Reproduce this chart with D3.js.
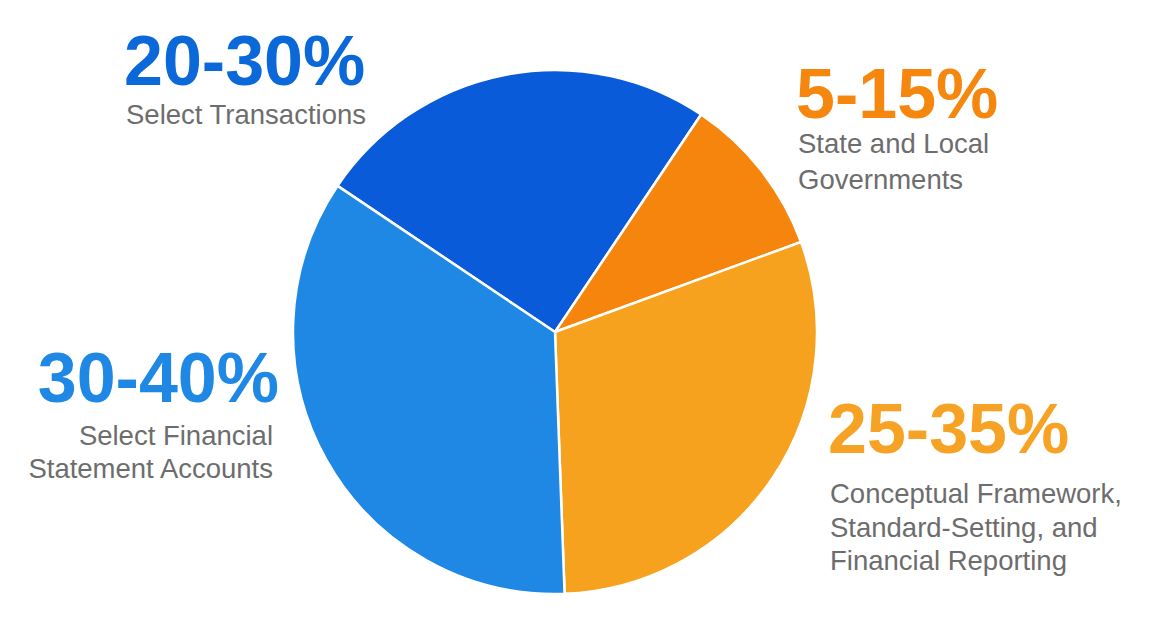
<!DOCTYPE html>
<html>
<head>
<meta charset="utf-8">
<script src="https://cdn.jsdelivr.net/npm/d3@7"></script>
<style>
  body { margin: 0; background: #fff; }
  text { font-family: "Liberation Sans", Arial, sans-serif; }
  .pct { font-weight: bold; font-size: 70px; }
  .sub { font-size: 27.5px; fill: #6d6d6d; }
</style>
</head>
<body>
<div id="chart"></div>
<script>
// slices, clockwise from the top-left one
var categories = ['Select Transactions', 'State and Local Governments',
    'Conceptual Framework, Standard-Setting, and Financial Reporting',
    'Select Financial Statement Accounts'];
var ranges = ['20-30%', '5-15%', '25-35%', '30-40%'];
var values = [25, 10, 30, 35];   // midpoint of each range
var sliceColors = ['#095bd9', '#f5850d', '#f6a21f', '#1f88e4'];
var labelColors = ['#0a68d9', '#f5870f', '#f6a325', '#1f88e4'];
var subLines = [['Select Transactions'], ['State and Local', 'Governments'],
    ['Conceptual Framework,', 'Standard-Setting, and', 'Financial Reporting'],
    ['Select Financial', 'Statement Accounts']];

var width = 1158,
    height = 633,
    radius = 262;

var svg = d3.select('#chart').append('svg')
    .attr('width', width)
    .attr('height', height);

var pie = d3.pie()
    .sort(null)
    .startAngle(-56.1 * Math.PI / 180)
    .endAngle((360 - 56.1) * Math.PI / 180);

var arc = d3.arc()
    .innerRadius(0)
    .outerRadius(radius);

var g = svg.append('g')
    .attr('transform', 'translate(555,332)');

g.selectAll('path')
    .data(pie(values))
  .enter().append('path')
    .attr('d', arc)
    .attr('fill', function (d, i) { return sliceColors[i]; })
    .attr('stroke', '#fff')
    .attr('stroke-width', 2.5)
    .attr('stroke-linejoin', 'round');

//label placement: anchor x, big number baseline, first sub line baseline, line gap
var labelPos = [
    {x: 124, anchor: 'start', y: 85, sy: 124, gap: 35},
    {x: 796, anchor: 'start', y: 118, sy: 153, gap: 36},
    {x: 828, anchor: 'start', y: 453, sy: 503, gap: 33.5},
    {x: 279, anchor: 'end', y: 402, sy: 445, gap: 33}
];

var labels = svg.selectAll('.label')
    .data(ranges)
  .enter().append('g')
    .attr('class', 'label');

labels.append('text')
    .attr('class', 'pct')
    .attr('x', function (d, i) { return labelPos[i].x; })
    .attr('y', function (d, i) { return labelPos[i].y; })
    .attr('text-anchor', function (d, i) { return labelPos[i].anchor; })
    .attr('fill', function (d, i) { return labelColors[i]; })
    .text(function (d) { return d; });

labels.each(function (d, i) {
    var p = labelPos[i];
    d3.select(this).selectAll('.sub')
        .data(subLines[i])
      .enter().append('text')
        .attr('class', 'sub')
        .attr('x', p.anchor === 'end' ? p.x - 6 : p.x + 2)
        .attr('y', function (s, j) { return p.sy + j * p.gap; })
        .attr('text-anchor', p.anchor)
        .text(function (s) { return s; });
});
</script>
</body>
</html>
